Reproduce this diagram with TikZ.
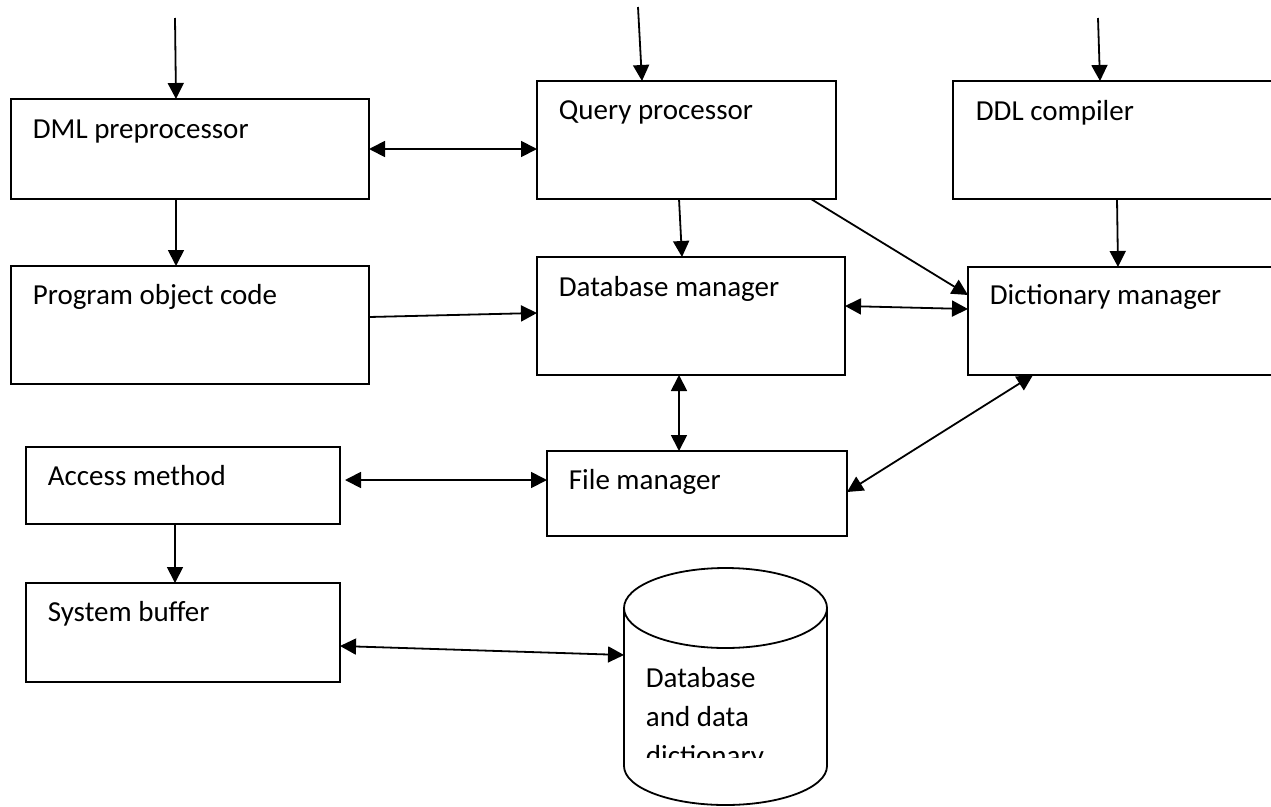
\documentclass[tikz,border=0pt]{standalone}
\usepackage{fontspec}
\setmainfont{Carlito}
\usepackage{tikz}
\usetikzlibrary{arrows.meta}

\begin{document}
\begin{tikzpicture}[x=1pt,y=-1pt,>={Triangle[length=16pt,width=16pt]},line width=1.8pt,font=\fontsize{29}{39}\selectfont]
      \tikzstyle{module}=[draw=black,rectangle,anchor=north west,inner sep=0pt,outer sep=0pt]
      \tikzstyle{caption}=[anchor=base west,inner sep=0pt]
      \useasboundingbox (0,0) rectangle (1271,806);
      \node [module,minimum width=358pt,minimum height=100pt] (dml) at (11,99) {};
      \node [module,minimum width=358pt,minimum height=118pt] (prog) at (11,266) {};
      \node [module,minimum width=299pt,minimum height=118pt] (qp) at (537,81) {};
      \node [module,minimum width=308pt,minimum height=118pt] (dbm) at (537,257) {};
      \node [module,minimum width=340pt,minimum height=118pt] (ddl) at (953,81) {};
      \node [module,minimum width=330pt,minimum height=108pt] (dm) at (968,267) {};
      \node [module,minimum width=314pt,minimum height=77pt] (acc) at (26,447) {};
      \node [module,minimum width=314pt,minimum height=99pt] (buf) at (26,583) {};
      \node [module,minimum width=300pt,minimum height=85pt] (fm) at (547,451) {};
      \node [inner sep=0pt,outer sep=0pt,minimum width=203pt,minimum height=237pt] (db) at (725.5,686.5) {};
      \draw (db.center |- 0,608) ellipse [x radius=101.5pt,y radius=40pt];
      \draw (db.west |- 0,608) -- (db.west |- 0,766) arc [start angle=180,end angle=360,x radius=101.5pt,y radius=39pt] -- (db.east |- 0,608);
      \node [caption] (dmlt) at ([shift={(21pt,-39pt)}]dml.north west) {DML preprocessor};
      \node [caption] (progt) at ([shift={(21pt,-38pt)}]prog.north west) {Program object code};
      \node [caption] (qpt) at ([shift={(21pt,-38pt)}]qp.north west) {Query processor};
      \node [caption] (dbmt) at ([shift={(21pt,-39pt)}]dbm.north west) {Database manager};
      \node [caption] (ddlt) at ([shift={(22pt,-39pt)}]ddl.north west) {DDL compiler};
      \node [caption] (dmt) at ([shift={(21pt,-37pt)}]dm.north west) {Dictionary manager};
      \node [caption] (acct) at ([shift={(21pt,-38pt)}]acc.north west) {Access method};
      \node [caption] (buft) at ([shift={(21pt,-38pt)}]buf.north west) {System buffer};
      \node [caption] (fmt) at ([shift={(21pt,-38pt)}]fm.north west) {File manager};
      \begin{scope}
	\clip (624,650) rectangle (827,757);
	\node [caption,align=left] (dbt) at (645,765) {Database\\and data\\dictionary};
      \end{scope}
      \coordinate (in1) at (175,18);
      \coordinate (in2) at (638,7);
      \coordinate (in3) at (1098,18);
      \draw [->] (in1) -- ([xshift=165pt]dml.north west);
      \draw [->] (in2) -- ([xshift=105pt]qp.north west);
      \draw [->] (in3) -- ([xshift=147pt]ddl.north west);
      \draw [<->] (dml.east) -- (dml.east -| qp.west);
      \draw [->] ([xshift=165pt]dml.south west) -- ([xshift=165pt]prog.north west);
      \draw [->] ([yshift=-51pt]prog.north east) -- ([yshift=-56pt]dbm.north west);
      \draw [->] ([xshift=142pt]qp.south west) -- ([xshift=145pt]dbm.north west);
      \draw [->] ([xshift=274pt]qp.south west) -- ([yshift=-28pt]dm.north west);
      \draw [->] ([xshift=164pt]ddl.south west) -- ([xshift=150pt]dm.north west);
      \draw [<->] ([yshift=-49pt]dbm.north east) -- ([yshift=-42pt]dm.north west);
      \draw [<->] ([xshift=142pt]dbm.south west) -- ([xshift=132pt]fm.north west);
      \draw [<->] ([xshift=65pt]dm.south west) -- ([yshift=-41pt]fm.north east);
      \draw [<->] ([shift={(5pt,5.5pt)}]acc.east) -- ([yshift=13.5pt]fm.west);
      \draw [->] ([xshift=149pt]acc.south west) -- ([xshift=149pt]buf.north west);
      \draw [<->] ([yshift=-13.5pt]buf.east) -- ([yshift=31.5pt]db.west);
\end{tikzpicture}
\end{document}
